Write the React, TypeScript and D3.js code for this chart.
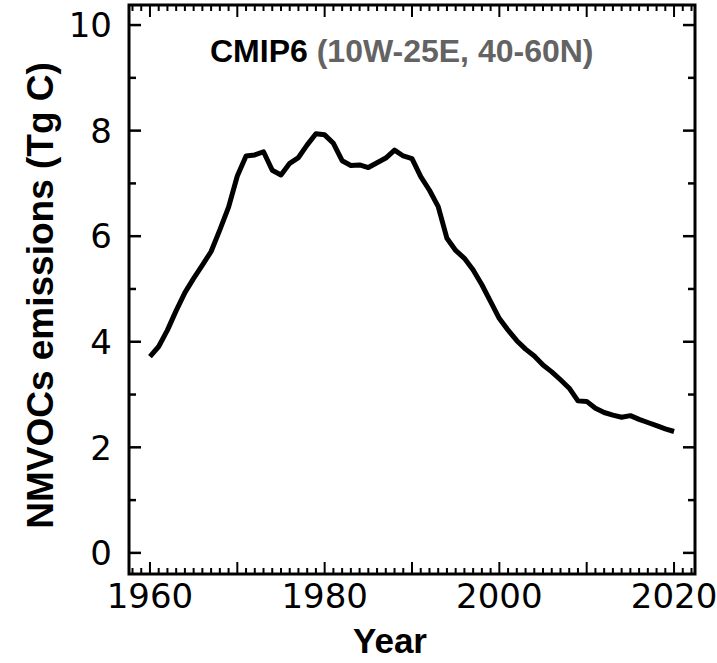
import React, { useEffect, useRef } from 'react';
import * as d3 from 'd3';

const years = d3.range(1960, 2021);
const emissions = [
  3.72, 3.91, 4.22, 4.59, 4.93, 5.2, 5.45, 5.71, 6.12, 6.55,
  7.14, 7.52, 7.54, 7.6, 7.25, 7.16, 7.38, 7.49, 7.73, 7.94,
  7.92, 7.76, 7.43, 7.34, 7.35, 7.3, 7.39, 7.48, 7.63, 7.52,
  7.47, 7.13, 6.87, 6.56, 5.96, 5.73, 5.58, 5.36, 5.08, 4.76,
  4.44, 4.22, 4.02, 3.86, 3.73, 3.56, 3.43, 3.28, 3.12, 2.88,
  2.87, 2.74, 2.66, 2.61, 2.57, 2.6, 2.53, 2.47, 2.41, 2.35, 2.3,
];
const yTickLabels = [0, 2, 4, 6, 8, 10];
const xTickLabels = [1960, 1980, 2000, 2020];

const W = 717;
const H = 663;
const plot = { left: 129, right: 695, top: 5, bottom: 574 };

const Chart = () => {
  const ref = useRef<SVGSVGElement>(null);

  useEffect(() => {
    const svg = d3.select(ref.current);
    svg.selectAll('*').remove();

    const x = d3.scaleLinear().domain([1957.6, 2022.4]).range([plot.left, plot.right]);
    const y = d3.scaleLinear().domain([-0.4, 10.38]).range([plot.bottom, plot.top]);

    const g = svg.append('g');

    // ticks (inward on all four sides)
    const yearTicks = d3.range(1958, 2023);
    yearTicks.forEach((yr) => {
      const len = yr % 10 === 0 ? 12 : 6;
      g.append('line')
        .attr('x1', x(yr)).attr('x2', x(yr))
        .attr('y1', plot.bottom).attr('y2', plot.bottom - len)
        .attr('stroke', 'black').attr('stroke-width', 2);
      g.append('line')
        .attr('x1', x(yr)).attr('x2', x(yr))
        .attr('y1', plot.top).attr('y2', plot.top + len)
        .attr('stroke', 'black').attr('stroke-width', 2);
    });
    d3.range(0, 11).forEach((v) => {
      const len = v % 2 === 0 ? 12 : 7;
      g.append('line')
        .attr('x1', plot.left).attr('x2', plot.left + len)
        .attr('y1', y(v)).attr('y2', y(v))
        .attr('stroke', 'black').attr('stroke-width', 2.5);
      g.append('line')
        .attr('x1', plot.right).attr('x2', plot.right - len)
        .attr('y1', y(v)).attr('y2', y(v))
        .attr('stroke', 'black').attr('stroke-width', 2.5);
    });

    // frame
    g.append('rect')
      .attr('x', plot.left).attr('y', plot.top)
      .attr('width', plot.right - plot.left).attr('height', plot.bottom - plot.top)
      .attr('fill', 'none').attr('stroke', 'black').attr('stroke-width', 3);

    // tick labels
    g.selectAll('.ylab')
      .data(yTickLabels)
      .enter()
      .append('text')
      .attr('x', plot.left - 17)
      .attr('y', (d) => y(d))
      .attr('dy', '0.36em')
      .attr('text-anchor', 'end')
      .style('font-family', 'DejaVu Sans')
      .style('font-size', '34px')
      .text((d) => d);

    g.selectAll('.xlab')
      .data(xTickLabels)
      .enter()
      .append('text')
      .attr('x', (d) => x(d))
      .attr('y', 608)
      .attr('text-anchor', 'middle')
      .style('font-family', 'DejaVu Sans')
      .style('font-size', '34px')
      .text((d) => d);

    // data line
    const line = d3
      .line<number>()
      .x((_, i) => x(years[i]))
      .y((d) => y(d));
    g.append('path')
      .datum(emissions)
      .attr('d', line)
      .attr('fill', 'none')
      .attr('stroke', 'black')
      .attr('stroke-width', 5)
      .attr('stroke-linejoin', 'round');

    // title
    const title = g.append('text')
      .attr('x', 210)
      .attr('y', 62)
      .style('font-family', 'Liberation Sans, Arial, sans-serif')
      .style('font-weight', 'bold')
      .style('font-size', '32px');
    title.append('tspan').attr('fill', 'black').text('CMIP6 ');
    title.append('tspan').attr('fill', '#636363').text('(10W-25E, 40-60N)');

    // axis labels
    g.append('text')
      .attr('transform', `translate(53, ${(plot.top + plot.bottom) / 2 + 6}) rotate(-90)`)
      .attr('text-anchor', 'middle')
      .style('font-family', 'Liberation Sans, Arial, sans-serif')
      .style('font-weight', 'bold')
      .style('font-size', '37px')
      .text('NMVOCs emissions (Tg C)');

    g.append('text')
      .attr('x', 390)
      .attr('y', 653)
      .attr('text-anchor', 'middle')
      .style('font-family', 'Liberation Sans, Arial, sans-serif')
      .style('font-weight', 'bold')
      .style('font-size', '35px')
      .text('Year');
  }, []);

  return <svg ref={ref} width={W} height={H} style={{ display: 'block' }} />;
};

export default function App() {
  return (
    <div style={{ position: 'absolute', left: 0, top: 0, background: 'white' }}>
      <Chart />
    </div>
  );
}
